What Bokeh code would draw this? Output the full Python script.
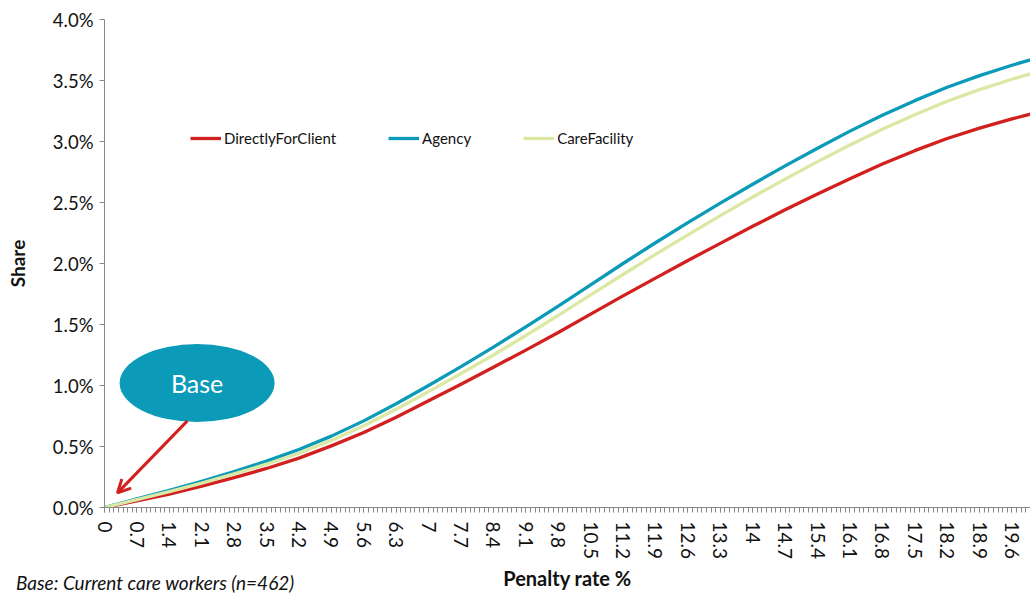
from bokeh.plotting import figure
from bokeh.layouts import column
from bokeh.models import (FixedTicker, PrintfTickFormatter, Legend, LegendItem,
                          Label, Arrow, OpenHead, Range1d, ColumnDataSource, Div)
from bokeh.embed import file_html
from bokeh.resources import INLINE

# Penalty rate (%) and modelled share of workers, per employer type
penalty = [0, 0.7, 1.4, 2.1, 2.8, 3.5, 4.2, 4.9, 5.6, 6.3, 7.0, 7.7, 8.4, 9.1,
           9.8, 10.5, 11.2, 11.9, 12.6, 13.3, 14.0, 14.7, 15.4, 16.1, 16.8,
           17.5, 18.2, 18.9, 19.6, 20.0]
directly_for_client = [0.000, 0.055, 0.110, 0.175, 0.245, 0.320, 0.405, 0.505,
                       0.615, 0.740, 0.875, 1.010, 1.150, 1.290, 1.435, 1.585,
                       1.735, 1.880, 2.025, 2.165, 2.305, 2.440, 2.570, 2.695,
                       2.815, 2.925, 3.025, 3.110, 3.185, 3.225]
agency = [0.000, 0.070, 0.140, 0.215, 0.295, 0.380, 0.475, 0.585, 0.710, 0.850,
          1.000, 1.155, 1.315, 1.480, 1.650, 1.825, 2.000, 2.170, 2.335, 2.495,
          2.650, 2.800, 2.945, 3.085, 3.215, 3.335, 3.445, 3.540, 3.625, 3.670]
care_facility = [0.000, 0.065, 0.130, 0.200, 0.275, 0.355, 0.445, 0.550, 0.670,
                 0.805, 0.950, 1.098, 1.250, 1.410, 1.575, 1.743, 1.910, 2.075,
                 2.235, 2.392, 2.545, 2.692, 2.835, 2.972, 3.100, 3.220, 3.330,
                 3.425, 3.510, 3.555]

x_tick_labels = ["0", "0.7", "1.4", "2.1", "2.8", "3.5", "4.2", "4.9", "5.6",
                 "6.3", "7", "7.7", "8.4", "9.1", "9.8", "10.5", "11.2", "11.9",
                 "12.6", "13.3", "14", "14.7", "15.4", "16.1", "16.8", "17.5",
                 "18.2", "18.9", "19.6"]
y_ticks = [0.0, 0.5, 1.0, 1.5, 2.0, 2.5, 3.0, 3.5, 4.0]

series_names = ["DirectlyForClient", "Agency", "CareFacility"]
series_colors = ["#D2201F", "#0B9BB8", "#DAE8A4"]
note_text = "Base: Current care workers (n=462)"

FONT = "Lato"
AXIS_GREY = "#888888"
TEXT = "#111111"

p = figure(width=1030, height=593, output_backend="svg", toolbar_location=None,
           x_range=Range1d(0, 20), y_range=Range1d(0, 4),
           min_border_left=104, min_border_right=0, min_border_top=19,
           min_border_bottom=84)
p.outline_line_color = None
p.xgrid.visible = False
p.ygrid.visible = False
p.background_fill_color = "white"
p.border_fill_color = "white"

src = ColumnDataSource(dict(x=penalty, a=directly_for_client, b=agency,
                            c=care_facility))
renderers = []
for col, color in zip(["a", "b", "c"], series_colors):
    r = p.line("x", col, source=src, line_color=color, line_width=3.3,
               line_join="round")
    renderers.append(r)

# x axis: labelled every 0.7, minor ticks every 0.1
x_ticks = [float(s) for s in x_tick_labels]
minor = [i / 10 for i in range(0, 201)]
p.xaxis.ticker = FixedTicker(ticks=x_ticks, minor_ticks=minor)
p.xaxis.major_label_overrides = {t: s for t, s in zip(x_ticks, x_tick_labels)}
p.xaxis.major_label_orientation = "vertical"
p.xaxis.axis_label = "Penalty rate %"

p.yaxis.ticker = FixedTicker(ticks=y_ticks)
p.yaxis.formatter = PrintfTickFormatter(format="%.1f%%")
p.yaxis.axis_label = "Share"

for ax in (p.xaxis[0], p.yaxis[0]):
    ax.axis_line_color = AXIS_GREY
    ax.major_tick_line_color = AXIS_GREY
    ax.major_tick_out = 5
    ax.major_tick_in = 0
    ax.minor_tick_out = 5
    ax.minor_tick_in = 0
    ax.major_label_text_font = FONT
    ax.major_label_text_color = TEXT
    ax.axis_label_text_font = FONT
    ax.axis_label_text_font_style = "bold"
    ax.axis_label_text_color = TEXT
p.xaxis.minor_tick_line_color = AXIS_GREY
p.yaxis.minor_tick_line_color = None
p.xaxis.major_label_text_font_size = "19px"
p.yaxis.major_label_text_font_size = "18.5px"
p.xaxis.axis_label_text_font_size = "20px"
p.yaxis.axis_label_text_font_size = "19px"
p.xaxis.major_label_standoff = 9
p.yaxis.major_label_standoff = 6
p.xaxis.axis_label_standoff = 4
p.yaxis.axis_label_standoff = 21

legend = Legend(
    items=[LegendItem(label=n, renderers=[r]) for n, r in zip(series_names, renderers)],
    location=(86, 359), orientation="horizontal",
    glyph_width=31, glyph_height=20, label_standoff=3, spacing=52,
    padding=0, margin=0, border_line_color=None, background_fill_alpha=0,
    label_text_font=FONT, label_text_font_size="15px", label_text_color=TEXT,
)
p.add_layout(legend, "center")

# callout pointing at the base case
p.ellipse(x=[2.0], y=[1.02], width=155, height=78, width_units="screen",
          height_units="screen", fill_color="#0B9BB8", line_color=None)
p.add_layout(Label(x=2.0, y=1.02, text="Base", text_align="center",
                   text_baseline="middle", text_color="white",
                   text_font=FONT, text_font_size="25px"))
p.add_layout(Arrow(x_start=1.79, y_start=0.71, x_end=0.28, y_end=0.12,
                   line_color="#D2201F", line_width=3,
                   end=OpenHead(size=13, line_color="#D2201F", line_width=3)))

# sample note, pulled up beside the x-axis title
note = Div(text=note_text, width=400, margin=(-24, 0, 0, 16),
           styles={"font-family": FONT, "font-style": "italic",
                   "font-size": "19px", "color": TEXT,
                   "white-space": "nowrap"})

open("out.html", "w").write(file_html(column(p, note, spacing=0), INLINE))
